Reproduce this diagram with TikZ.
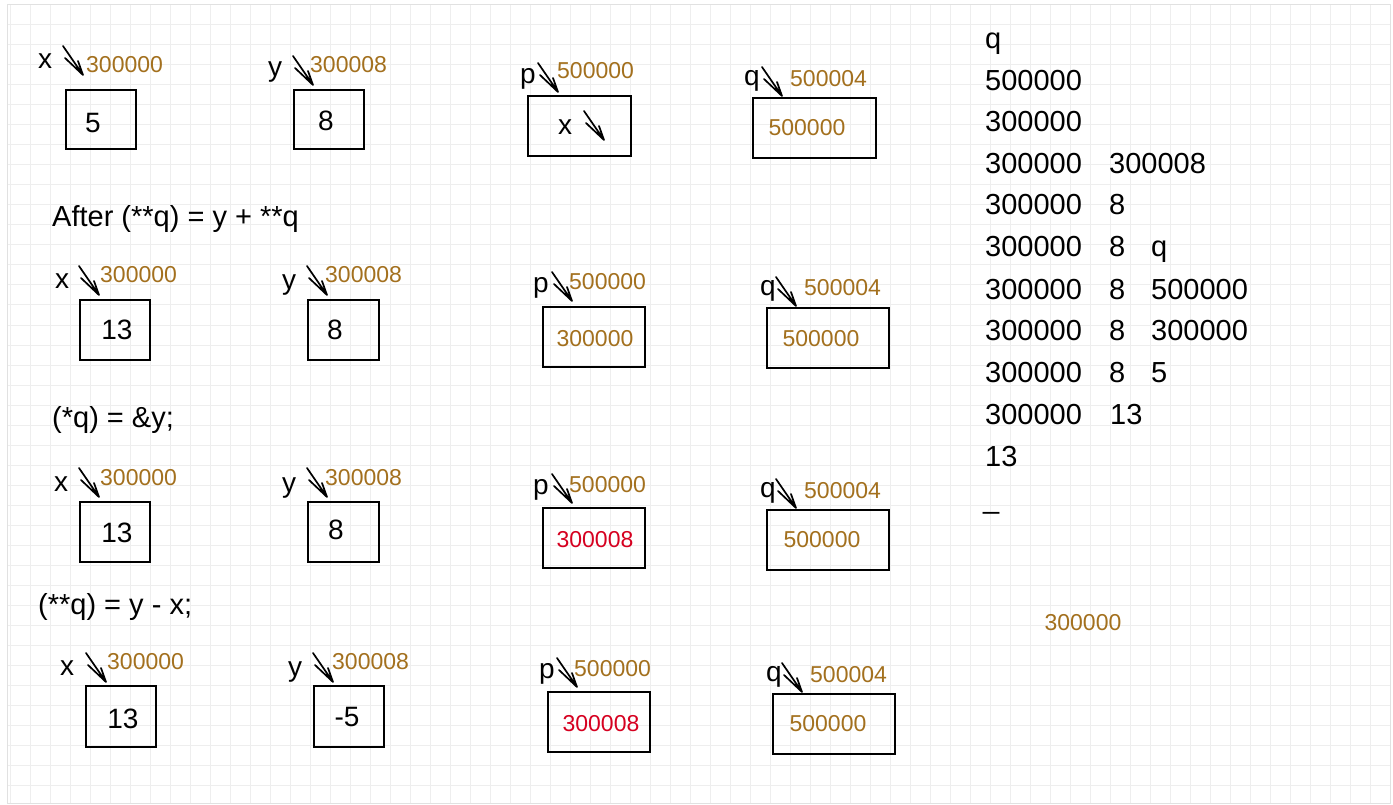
\documentclass[tikz,border=0pt]{standalone}
\usepackage{fontspec}
\setmainfont{Liberation Sans}
\definecolor{addrc}{RGB}{163,112,30}
\definecolor{redc}{RGB}{214,0,32}
\definecolor{gridc}{RGB}{238,238,238}
\definecolor{framec}{RGB}{225,225,225}
\tikzset{
  gridl/.style={draw=gridc, line width=1},
  cell/.style={draw, line width=1.8, inner sep=0, anchor=north west},
  lbl/.style={font=\fontsize{28}{30}\selectfont, inner sep=0, anchor=base},
  addr/.style={font=\fontsize{23}{25}\selectfont, text=addrc, inner sep=0, anchor=base west},
  val/.style={font=\fontsize{28}{30}\selectfont, inner sep=0},
  bval/.style={font=\fontsize{23}{25}\selectfont, text=addrc, inner sep=0},
  rval/.style={font=\fontsize{23}{25}\selectfont, text=redc, inner sep=0},
  head/.style={font=\fontsize{29}{31}\selectfont, inner sep=0, anchor=base west},
  outt/.style={font=\fontsize{29}{31}\selectfont, inner sep=0, anchor=base west},
  ptrl/.style={draw=black, line width=1.7, line cap=round, line join=round},
  ptr/.pic={\draw[ptrl] (-20,-29) -- (0,0) (-18,-17) -- (0,0) -- (-5,-14);}
}
\begin{document}
\begin{tikzpicture}[x=1pt,y=-1pt]
\useasboundingbox (0,0) rectangle (1393,805);
\fill[white] (0,0) rectangle (1393,805);
% grid
\foreach \gx in {10,30,...,1390} \draw[gridl] (\gx,5) -- (\gx,803);
\foreach \gy in {25,45,...,785} \draw[gridl] (7,\gy) -- (1390,\gy);
\draw[framec, line width=1] (7,5) rectangle (1390,803);

% ---------- Row 1 ----------
\node[lbl] (x1l) at (45,69) {x};
\coordinate (x1t) at (83,75); \pic at (x1t) {ptr};
\node[addr] (x1a) at (86,73) {300000};
\node[cell, minimum width=70, minimum height=59] (x1b) at (65,89) {};
\node[val] (x1v) at (93,123) {5};

\node[lbl] (y1l) at (275,77) {y};
\coordinate (y1t) at (313,85); \pic at (y1t) {ptr};
\node[addr] (y1a) at (310,73) {300008};
\node[cell, minimum width=70, minimum height=59] (y1b) at (293,89) {};
\node[val] (y1v) at (326,121) {8};

\node[lbl] (p1l) at (528,84) {p};
\coordinate (p1t) at (558,92); \pic at (p1t) {ptr};
\node[addr] (p1a) at (557,79) {500000};
\node[cell, minimum width=103, minimum height=60] (p1b) at (527,95) {};
\node[val] (p1v) at (565,127) {x};
\coordinate (p1vt) at (604,140); \pic at (p1vt) {ptr};

\node[lbl] (q1l) at (752,86) {q};
\coordinate (q1t) at (782,96); \pic at (q1t) {ptr};
\node[addr] (q1a) at (790,87) {500004};
\node[cell, minimum width=123, minimum height=60] (q1b) at (752,97) {};
\node[bval] (q1v) at (807,128) {500000};

\node[head] (h1) at (52,227) {After (**q) = y + **q};

% ---------- Row 2 ----------
\node[lbl] (x2l) at (62,289) {x};
\coordinate (x2t) at (99,295); \pic at (x2t) {ptr};
\node[addr] (x2a) at (100,283) {300000};
\node[cell, minimum width=70, minimum height=60] (x2b) at (79,299) {};
\node[val] (x2v) at (117,330) {13};

\node[lbl] (y2l) at (289,290) {y};
\coordinate (y2t) at (327,295); \pic at (y2t) {ptr};
\node[addr] (y2a) at (325,283) {300008};
\node[cell, minimum width=71, minimum height=60] (y2b) at (307,299) {};
\node[val] (y2v) at (335,330) {8};

\node[lbl] (p2l) at (541,292) {p};
\coordinate (p2t) at (572,301); \pic at (p2t) {ptr};
\node[addr] (p2a) at (569,290) {500000};
\node[cell, minimum width=102, minimum height=60] (p2b) at (542,306) {};
\node[bval] (p2v) at (595,339) {300000};

\node[lbl] (q2l) at (768,295) {q};
\coordinate (q2t) at (796,306); \pic at (q2t) {ptr};
\node[addr] (q2a) at (804,296) {500004};
\node[cell, minimum width=122, minimum height=60] (q2b) at (766,307) {};
\node[bval] (q2v) at (821,339) {500000};

\node[head] (h2) at (52,427) {(*q) = \&y;};

% ---------- Row 3 ----------
\node[lbl] (x3l) at (61,491) {x};
\coordinate (x3t) at (99,497); \pic at (x3t) {ptr};
\node[addr] (x3a) at (100,485) {300000};
\node[cell, minimum width=70, minimum height=60] (x3b) at (79,501) {};
\node[val] (x3v) at (117,533) {13};

\node[lbl] (y3l) at (289,492) {y};
\coordinate (y3t) at (327,497); \pic at (y3t) {ptr};
\node[addr] (y3a) at (325,485) {300008};
\node[cell, minimum width=71, minimum height=60] (y3b) at (307,501) {};
\node[val] (y3v) at (336,530) {8};

\node[lbl] (p3l) at (541,494) {p};
\coordinate (p3t) at (572,503); \pic at (p3t) {ptr};
\node[addr] (p3a) at (569,492) {500000};
\node[cell, minimum width=102, minimum height=60] (p3b) at (542,507) {};
\node[rval] (p3v) at (595,540) {300008};

\node[lbl] (q3l) at (768,497) {q};
\coordinate (q3t) at (796,508); \pic at (q3t) {ptr};
\node[addr] (q3a) at (804,498) {500004};
\node[cell, minimum width=122, minimum height=60] (q3b) at (766,509) {};
\node[bval] (q3v) at (822,540) {500000};

\node[head] (h3) at (38,614) {(**q) = y - x;};

% ---------- Row 4 ----------
\node[lbl] (x4l) at (67,675) {x};
\coordinate (x4t) at (106,682); \pic at (x4t) {ptr};
\node[addr] (x4a) at (107,669) {300000};
\node[cell, minimum width=70, minimum height=61] (x4b) at (85,685) {};
\node[val] (x4v) at (123,719) {13};

\node[lbl] (y4l) at (295,676) {y};
\coordinate (y4t) at (333,682); \pic at (y4t) {ptr};
\node[addr] (y4a) at (332,669) {300008};
\node[cell, minimum width=70, minimum height=61] (y4b) at (313,685) {};
\node[val] (y4v) at (347,717) {-5};

\node[lbl] (p4l) at (547,678) {p};
\coordinate (p4t) at (577,687); \pic at (p4t) {ptr};
\node[addr] (p4a) at (574,676) {500000};
\node[cell, minimum width=102, minimum height=60] (p4b) at (547,691) {};
\node[rval] (p4v) at (601,724) {300008};

\node[lbl] (q4l) at (774,681) {q};
\coordinate (q4t) at (802,692); \pic at (q4t) {ptr};
\node[addr] (q4a) at (810,682) {500004};
\node[cell, minimum width=122, minimum height=60] (q4b) at (772,693) {};
\node[bval] (q4v) at (828,724) {500000};

% ---------- Right column ----------
\node[outt] (o1) at (985,49) {q};
\node[outt] (o2) at (985,91) {500000};
\node[outt] (o3) at (985,132) {300000};
\node[outt] (o4a) at (985,174) {300000};
\node[outt] (o4b) at (1109,174) {300008};
\node[outt] (o5a) at (985,215) {300000};
\node[outt] (o5b) at (1109,215) {8};
\node[outt] (o6a) at (985,257) {300000};
\node[outt] (o6b) at (1109,257) {8};
\node[outt] (o6c) at (1151,257) {q};
\node[outt] (o7a) at (985,299) {300000};
\node[outt] (o7b) at (1109,299) {8};
\node[outt] (o7c) at (1151,299) {500000};
\node[outt] (o8a) at (985,340) {300000};
\node[outt] (o8b) at (1109,340) {8};
\node[outt] (o8c) at (1151,340) {300000};
\node[outt] (o9a) at (985,382) {300000};
\node[outt] (o9b) at (1109,382) {8};
\node[outt] (o9c) at (1151,382) {5};
\node[outt] (o10a) at (985,424) {300000};
\node[outt] (o10b) at (1110,424) {13};
\node[outt] (o11) at (985,466) {13};
\node[outt] (o12) at (983,508) {\_};

\node[bval] (lone) at (1083,623) {300000};
\end{tikzpicture}
\end{document}
